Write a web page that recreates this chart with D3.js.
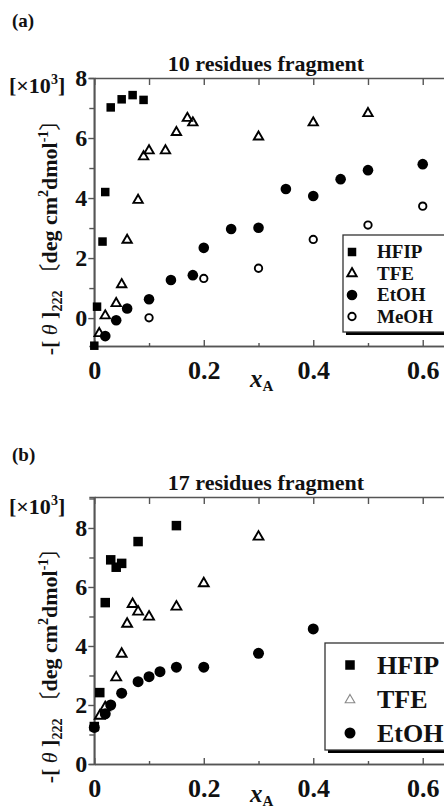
<!DOCTYPE html>
<html>
<head>
<meta charset="utf-8">
<script src="https://cdn.jsdelivr.net/npm/d3@7"></script>
<style>
  body { margin: 0; background: #fff; }
  svg { display: block; }
  text { font-family: "Liberation Serif", "Times New Roman", serif; font-weight: bold; fill: #111; }
</style>
</head>
<body>
<svg id="canvas" width="444" height="811"></svg>
<script>
// panel (a): 10 residues fragment, [x_A, -[theta]222 (x10^3)]
let aHFIP = [[0, -0.92], [0.005, 0.38], [0.015, 2.55], [0.02, 4.2], [0.03, 7.02], [0.05, 7.29], [0.07, 7.43], [0.09, 7.27]];
let aTFE = [[0.009, -0.51], [0.02, 0.08], [0.04, 0.49], [0.05, 1.12], [0.06, 2.6], [0.08, 3.93], [0.09, 5.38], [0.1, 5.58],
  [0.13, 5.58], [0.15, 6.19], [0.17, 6.66], [0.18, 6.51], [0.3, 6.04], [0.4, 6.51], [0.5, 6.82]];
let aEtOH = [[0.02, -0.6], [0.04, -0.07], [0.06, 0.32], [0.1, 0.63], [0.14, 1.27], [0.18, 1.43], [0.2, 2.34], [0.25, 2.97],
  [0.3, 3.01], [0.35, 4.3], [0.4, 4.07], [0.45, 4.63], [0.5, 4.93], [0.6, 5.13]];
let aMeOH = [[0.1, 0.01], [0.2, 1.32], [0.3, 1.66], [0.4, 2.62], [0.5, 3.1], [0.6, 3.73]];

// panel (b): 17 residues fragment
let bHFIP = [[0, 1.27], [0.01, 2.42], [0.02, 5.47], [0.03, 6.92], [0.04, 6.67], [0.05, 6.8], [0.08, 7.54], [0.15, 8.08]];
let bTFE = [[0.01, 1.63], [0.02, 1.92], [0.04, 2.93], [0.05, 3.73], [0.06, 4.75], [0.07, 5.42], [0.08, 5.16], [0.1, 4.99],
  [0.15, 5.33], [0.2, 6.12], [0.3, 7.7]];
let bEtOH = [[0, 1.24], [0.02, 1.7], [0.03, 2.0], [0.05, 2.4], [0.08, 2.79], [0.1, 2.96], [0.12, 3.13], [0.15, 3.28],
  [0.2, 3.28], [0.3, 3.75], [0.4, 4.58]];

let xTicks = [0, 0.2, 0.4, 0.6];
let xMinor = [0.1, 0.3, 0.5];
let aYTicks = [0, 2, 4, 6, 8];
let aYMinor = [1, 3, 5, 7];
let bYTicks = [0, 2, 4, 6, 8];
let bYMinor = [1, 3, 5, 7, 9];

let canvas = d3.select("#canvas");
canvas.append("rect").attr("width", 444).attr("height", 811).attr("fill", "#fff");

let axisColor = "#555";

function styleAxis(g) {
  g.selectAll("path").attr("stroke", axisColor).attr("stroke-width", 1.6);
  g.selectAll("line").attr("stroke", axisColor).attr("stroke-width", 1.4);
}

function marker(g, kind, x, y, big) {
  if (kind == "HFIP") {
    let s = big ? 9.5 : 8.5;
    g.append("rect").attr("x", x - s / 2).attr("y", y - s / 2).attr("width", s).attr("height", s).attr("fill", "#000");
  } else if (kind == "TFE") {
    g.append("path").attr("transform", "translate(" + x + "," + y + ")")
      .attr("d", d3.symbol().type(d3.symbolTriangle).size(big ? 42 : 38)())
      .attr("fill", "none").attr("stroke", "#000").attr("stroke-width", 1.9);
  } else if (kind == "EtOH") {
    g.append("circle").attr("cx", x).attr("cy", y).attr("r", big ? 5.5 : 5.3).attr("fill", "#000");
  } else {
    g.append("circle").attr("cx", x).attr("cy", y).attr("r", 3.7).attr("fill", "#fff").attr("stroke", "#000").attr("stroke-width", 1.9);
  }
}

function drawPanel(p) {
  let x = d3.scaleLinear().domain([0, 0.648]).range([94.3, 449]);
  let y = d3.scaleLinear().domain(p.yDomain).range([p.bottom, p.top]);
  let g = canvas.append("g");

  // frame + ticks
  g.append("g").attr("transform", "translate(0," + p.top + ")")
    .call(d3.axisTop(x).tickValues(xTicks.concat(xMinor)).tickSizeInner(-7).tickSizeOuter(0).tickFormat(""))
    .call(styleAxis);
  g.append("g").attr("transform", "translate(449,0)")
    .call(d3.axisRight(y).tickValues(p.yTicks.concat(p.yMinor)).tickSizeInner(-5).tickSizeOuter(0).tickFormat(""))
    .call(styleAxis);
  g.append("g").attr("transform", "translate(0," + p.bottom + ")")
    .call(d3.axisBottom(x).tickValues(xMinor).tickSizeInner(-3).tickSizeOuter(0).tickFormat(""))
    .call(styleAxis);
  let xb = g.append("g").attr("transform", "translate(0," + p.bottom + ")")
    .call(d3.axisBottom(x).tickValues(xTicks).tickSizeInner(-6).tickSizeOuter(0).tickPadding(15).tickFormat(d3.format("")))
    .call(styleAxis);
  xb.selectAll("text").attr("font-size", 26).attr("font-family", "Liberation Serif").attr("font-weight", "bold").attr("fill", "#111");
  g.append("g").attr("transform", "translate(94.3,0)")
    .call(d3.axisLeft(y).tickValues(p.yMinor).tickSize(5).tickFormat(""))
    .call(styleAxis);
  let yl = g.append("g").attr("transform", "translate(94.3,0)")
    .call(d3.axisLeft(y).tickValues(p.yTicks).tickSize(6).tickPadding(1).tickFormat(d3.format("d")))
    .call(styleAxis);
  yl.selectAll("text").attr("font-size", 24).attr("font-family", "Liberation Serif").attr("font-weight", "bold").attr("fill", "#111");
  yl.select(".domain").remove();
  g.append("line").attr("x1", 94.3).attr("x2", 94.3).attr("y1", p.top).attr("y2", p.bottom)
    .attr("stroke", axisColor).attr("stroke-width", 1.6);

  // points
  let pts = g.append("g");
  p.series.forEach((s) => {
    s.data.forEach((d) => marker(pts, s.name, x(d[0]), y(d[1]), p.big));
  });

  // legend
  let L = p.legend;
  g.append("rect").attr("x", L.x + 3).attr("y", L.y + 3).attr("width", 120).attr("height", L.h).attr("fill", "#000");
  g.append("rect").attr("x", L.x).attr("y", L.y).attr("width", 120).attr("height", L.h)
    .attr("fill", "#fff").attr("stroke", "#333").attr("stroke-width", 1.3);
  p.series.forEach((s, i) => {
    let cy = L.y + L.first + i * L.step;
    if (s.name == "TFE" && p.big) {
      g.append("path").attr("transform", "translate(" + L.mx + "," + (cy + 1) + ")")
        .attr("d", d3.symbol().type(d3.symbolTriangle).size(40)())
        .attr("fill", "none").attr("stroke", "#888").attr("stroke-width", 1.1);
    } else {
      marker(g, s.name, L.mx, cy, p.big);
    }
    g.append("text").attr("x", 377).attr("y", cy + L.fs * 0.33).attr("font-size", L.fs).text(s.name);
  });

  // titles and labels
  canvas.append("text").attr("x", 12).attr("y", p.tagY).attr("font-size", 19).text(p.tag);
  canvas.append("text").attr("x", 266).attr("y", p.titleY).attr("text-anchor", "middle").attr("font-size", 22).text(p.title);

  let u = canvas.append("text").attr("x", 9).attr("y", p.unitY).attr("font-size", 22);
  u.append("tspan").text("[×10");
  u.append("tspan").attr("dy", -9).attr("font-size", 14).text("3");
  u.append("tspan").attr("dy", 9).text("]");

  let xl = canvas.append("text").attr("x", 250).attr("y", p.xLabY).attr("font-size", 25);
  xl.append("tspan").attr("font-style", "italic").text("x");
  xl.append("tspan").attr("dy", 4).attr("font-size", 15).text("A");

  let ylab = canvas.append("text").attr("transform", "translate(57," + p.yLabC + ") rotate(-90)")
    .attr("text-anchor", "middle").attr("font-size", 22);
  ylab.append("tspan").text("-[ ");
  ylab.append("tspan").attr("font-style", "italic").attr("font-weight", "normal").text("θ");
  ylab.append("tspan").text(" ]");
  ylab.append("tspan").attr("dy", 5).attr("font-size", 14).text("222");
  ylab.append("tspan").attr("dy", -5).attr("font-weight", "normal").attr("font-family", "Noto Sans CJK JP").text("  〔");
  ylab.append("tspan").text("deg cm");
  ylab.append("tspan").attr("dy", -9).attr("font-size", 14).text("2");
  ylab.append("tspan").attr("dy", 9).text("dmol");
  ylab.append("tspan").attr("dy", -9).attr("font-size", 14).text("-1");
  ylab.append("tspan").attr("dy", 9).attr("font-weight", "normal").attr("font-family", "Noto Sans CJK JP").text("〕");
}

drawPanel({
  top: 78, bottom: 346, yDomain: [-0.93, 8], yTicks: aYTicks, yMinor: aYMinor, big: false,
  series: [{ name: "HFIP", data: aHFIP }, { name: "TFE", data: aTFE }, { name: "EtOH", data: aEtOH }, { name: "MeOH", data: aMeOH }],
  legend: { x: 343, y: 235, h: 97, mx: 352, first: 17, step: 21.5, fs: 19 },
  tag: "(a)", tagY: 27, title: "10 residues fragment", titleY: 71, unitY: 93, xLabY: 387, yLabC: 232
});

drawPanel({
  top: 497, bottom: 764, yDomain: [0, 9.05], yTicks: bYTicks, yMinor: bYMinor, big: true,
  series: [{ name: "HFIP", data: bHFIP }, { name: "TFE", data: bTFE }, { name: "EtOH", data: bEtOH }],
  legend: { x: 325, y: 643, h: 107, mx: 350, first: 22, step: 34, fs: 26 },
  tag: "(b)", tagY: 461, title: "17 residues fragment", titleY: 490, unitY: 514, xLabY: 802, yLabC: 660
});
</script>
</body>
</html>
